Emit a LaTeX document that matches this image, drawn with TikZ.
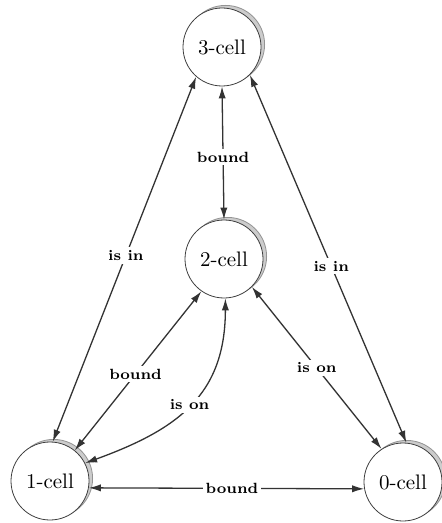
\documentclass[tikz,border=0pt]{standalone}
\usetikzlibrary{arrows.meta,shadows}

\tikzset{
  cell/.style={circle, draw=black!75, fill=white, minimum size=39pt, inner sep=0pt,
    font=\fontsize{10.5}{12}\selectfont,
    drop shadow={shadow xshift=1.8pt, shadow yshift=1.3pt, fill=gray!40, draw=gray!85, opacity=1}},
  rel/.style={fill=white, inner sep=1.5pt, font=\fontsize{7.4}{9}\selectfont\bfseries},
  link/.style={draw=black!80, line width=0.65pt}
}

\begin{document}
\begin{tikzpicture}[x=0.5pt, y=-0.5pt, >={Latex[length=6pt,width=3.6pt]}]
  \useasboundingbox (0,0) rectangle (442,523);

  \node[cell] (c3) at (222,47)  {3-cell};
  \node[cell] (c2) at (224,259) {2-cell};
  \node[cell] (c1) at (50,481)  {1-cell};
  \node[cell] (c0) at (403,482) {0-cell};

  % 3-cell to the others
  \draw[link, <->] (c3.229) -- node[rel, pos=0.49] {is in} (c1.86);
  \draw[link, <->] (c3.270) -- node[rel, pos=0.53] {bound} (c2.90);
  \draw[link, <->] (c3.315) -- node[rel, pos=0.52] {is in} (c0.85);

  % 2-cell to 1-cell and 0-cell
  \draw[link, <->] (c2.235) -- node[rel, pos=0.52] {bound} (c1.51);
  \draw[link, <->] (c2.272) to[out=-90, in=20, looseness=1.15] node[rel, pos=0.5] {is on} (c1.27);
  \draw[link, <->] (c2.315) -- node[rel, pos=0.5] {is on} (c0.123);

  % 1-cell to 0-cell
  \draw[link, <->] (c1.-10) -- node[rel, pos=0.52] {bound} (c0.190);
\end{tikzpicture}
\end{document}
